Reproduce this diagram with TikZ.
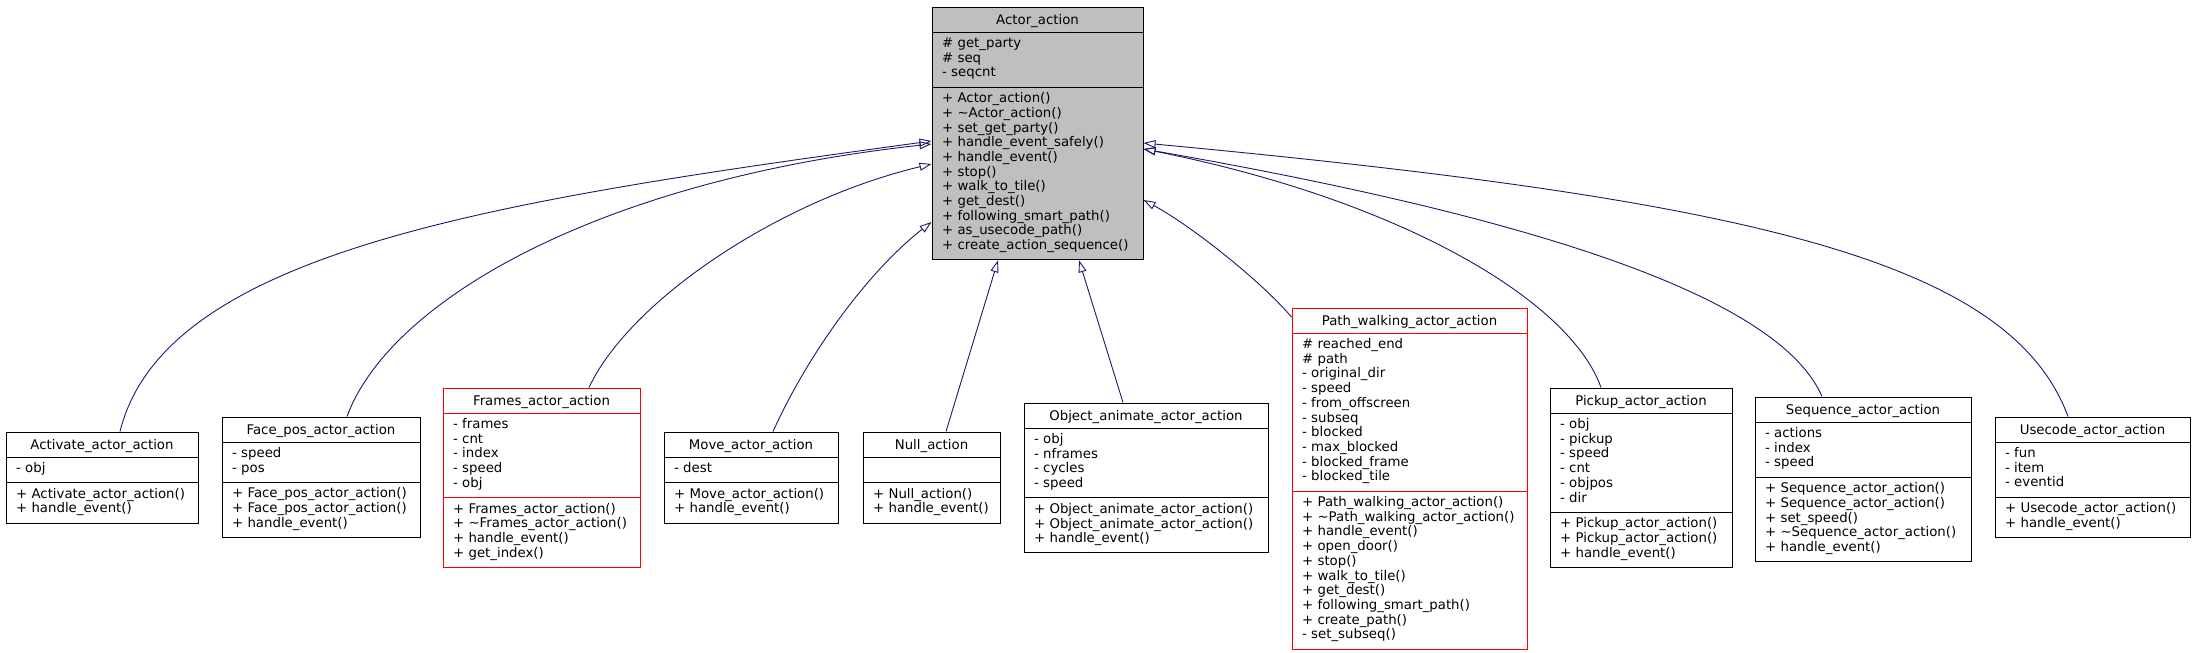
\documentclass[tikz,border=0pt]{standalone}
\usepackage{fontspec}
\setmainfont{DejaVu Sans}
\usetikzlibrary{arrows.meta}
\definecolor{edgeblue}{HTML}{191970}
\definecolor{basegray}{HTML}{BFBFBF}
\newcommand\umlfont{\fontsize{13.3}{14.7}\selectfont}
\tikzset{
  classbox/.style={draw=black, line width=1pt, inner sep=0pt, rectangle},
  sepline/.style={draw=black, line width=1pt},
  mem/.style={anchor=base west, inner sep=0pt, font=\umlfont},
  ttl/.style={anchor=base, inner sep=0pt, font=\umlfont},
  inh/.style={draw=edgeblue, line width=0.9pt, -{Triangle[open, length=12pt, width=8pt]}},
  redbox/.style={draw=red},
  graybox/.style={fill=basegray},
}
\def\setgeo#1,#2,#3,#4,#5\relax{\def\gL{#1}\def\gR{#2}\def\gT{#3}\def\gA{#4}\def\gM{#5}}
\newcommand\umlbox[6][]{%
  \setgeo#3\relax
  \pgfmathsetmacro\yA{\gT+25}%
  \pgfmathsetmacro\yB{\yA+14.7*\gA+11}%
  \pgfmathsetmacro\yC{\yB+14.7*\gM+11}%
  \pgfmathsetmacro\cx{(\gL+\gR)/2}%
  \pgfmathsetmacro\cy{(\gT+\yC)/2}%
  \pgfmathsetmacro\ww{\gR-\gL}%
  \pgfmathsetmacro\hh{\yC-\gT}%
  \node[classbox,#1,minimum width=\ww pt,minimum height=\hh pt] (#2) at (\cx,\cy) {};
  \draw[sepline,#1] (\gL,\yA) -- (\gR,\yA) (\gL,\yB) -- (\gR,\yB);
  \node[ttl] at (\cx,\gT+17.3) {#4};
  \foreach \t [count=\i from 0] in {#5} {\node[mem] at ({\gL+10},{\yA+15.5+14.7*\i}) {\t};}
  \foreach \t [count=\i from 0] in {#6} {\node[mem] at ({\gL+10},{\yB+15.5+14.7*\i}) {\t};}
}
\begin{document}
\begin{tikzpicture}[x=1pt,y=-1pt]
\fill[white] (0,0) rectangle (2195,653);
\useasboundingbox (0,0) rectangle (2195,653);

\umlbox[graybox]{base}{932,1143,7,3,11}{Actor\_action}
  {\# get\_party, \# seq, - seqcnt}
  {+ Actor\_action(), + \textasciitilde Actor\_action(), + set\_get\_party(), + handle\_event\_safely(), + handle\_event(), + stop(), + walk\_to\_tile(), + get\_dest(), + following\_smart\_path(), + as\_usecode\_path(), + create\_action\_sequence()}

\umlbox{act}{6,198,432,1,2}{Activate\_actor\_action}
  {- obj}
  {+ Activate\_actor\_action(), + handle\_event()}

\umlbox{face}{222,420,417,2,3}{Face\_pos\_actor\_action}
  {- speed, - pos}
  {+ Face\_pos\_actor\_action(), + Face\_pos\_actor\_action(), + handle\_event()}

\umlbox[redbox]{frames}{443,640,388,5,4}{Frames\_actor\_action}
  {- frames, - cnt, - index, - speed, - obj}
  {+ Frames\_actor\_action(), + \textasciitilde Frames\_actor\_action(), + handle\_event(), + get\_index()}

\umlbox{move}{664,838,432,1,2}{Move\_actor\_action}
  {- dest}
  {+ Move\_actor\_action(), + handle\_event()}

\umlbox{null}{863,1000,432,1,2}{Null\_action}
  {}
  {+ Null\_action(), + handle\_event()}

\umlbox{obj}{1024,1268,403,4,3}{Object\_animate\_actor\_action}
  {- obj, - nframes, - cycles, - speed}
  {+ Object\_animate\_actor\_action(), + Object\_animate\_actor\_action(), + handle\_event()}

\umlbox[redbox]{pwalk}{1292,1527,308,10,10}{Path\_walking\_actor\_action}
  {\# reached\_end, \# path, - original\_dir, - speed, - from\_offscreen, - subseq, - blocked, - max\_blocked, - blocked\_frame, - blocked\_tile}
  {+ Path\_walking\_actor\_action(), + \textasciitilde Path\_walking\_actor\_action(), + handle\_event(), + open\_door(), + stop(), + walk\_to\_tile(), + get\_dest(), + following\_smart\_path(), + create\_path(), - set\_subseq()}

\umlbox{pickup}{1550,1732,388,6,3}{Pickup\_actor\_action}
  {- obj, - pickup, - speed, - cnt, - objpos, - dir}
  {+ Pickup\_actor\_action(), + Pickup\_actor\_action(), + handle\_event()}

\umlbox{seq}{1755,1971,397,3,5}{Sequence\_actor\_action}
  {- actions, - index, - speed}
  {+ Sequence\_actor\_action(), + Sequence\_actor\_action(), + set\_speed(), + \textasciitilde Sequence\_actor\_action(), + handle\_event()}

\umlbox{use}{1995,2190,417,3,2}{Usecode\_actor\_action}
  {- fun, - item, - eventid}
  {+ Usecode\_actor\_action(), + handle\_event()}

% inheritance connectors
\draw[inh] ([xshift=18pt]act.north) .. controls (165,250) and (500,200) .. ([yshift=-7.6pt]base.west);
\draw[inh] ([xshift=26pt]face.north) .. controls (390,300) and (600,180) .. ([yshift=-10.6pt]base.west);
\draw[inh] ([xshift=47.5pt]frames.north) .. controls (630,300) and (780,200) .. ([yshift=-30.6pt]base.west);
\draw[inh] ([xshift=22pt]move.north) .. controls (810,350) and (870,270) .. ([yshift=-88.6pt]base.west);
\draw[inh] ([xshift=14.5pt]null.north) -- ([xshift=-39.5pt]base.south);
\draw[inh] ([xshift=-23pt]obj.north) -- ([xshift=41.5pt]base.south);
\draw[inh] ([yshift=161.5pt]pwalk.west) .. controls (1260,280) and (1190,225) .. ([yshift=-66.6pt]base.east);
\draw[inh] ([xshift=-40pt]pickup.north) .. controls (1570,300) and (1400,200) .. ([yshift=-15.6pt]base.east);
\draw[inh] ([xshift=-41pt]seq.north) .. controls (1780,300) and (1550,220) .. ([yshift=-15.6pt]base.east);
\draw[inh] ([xshift=-24.5pt]use.north) .. controls (2010,260) and (1750,200) .. ([yshift=-9.6pt]base.east);
\end{tikzpicture}
\end{document}
